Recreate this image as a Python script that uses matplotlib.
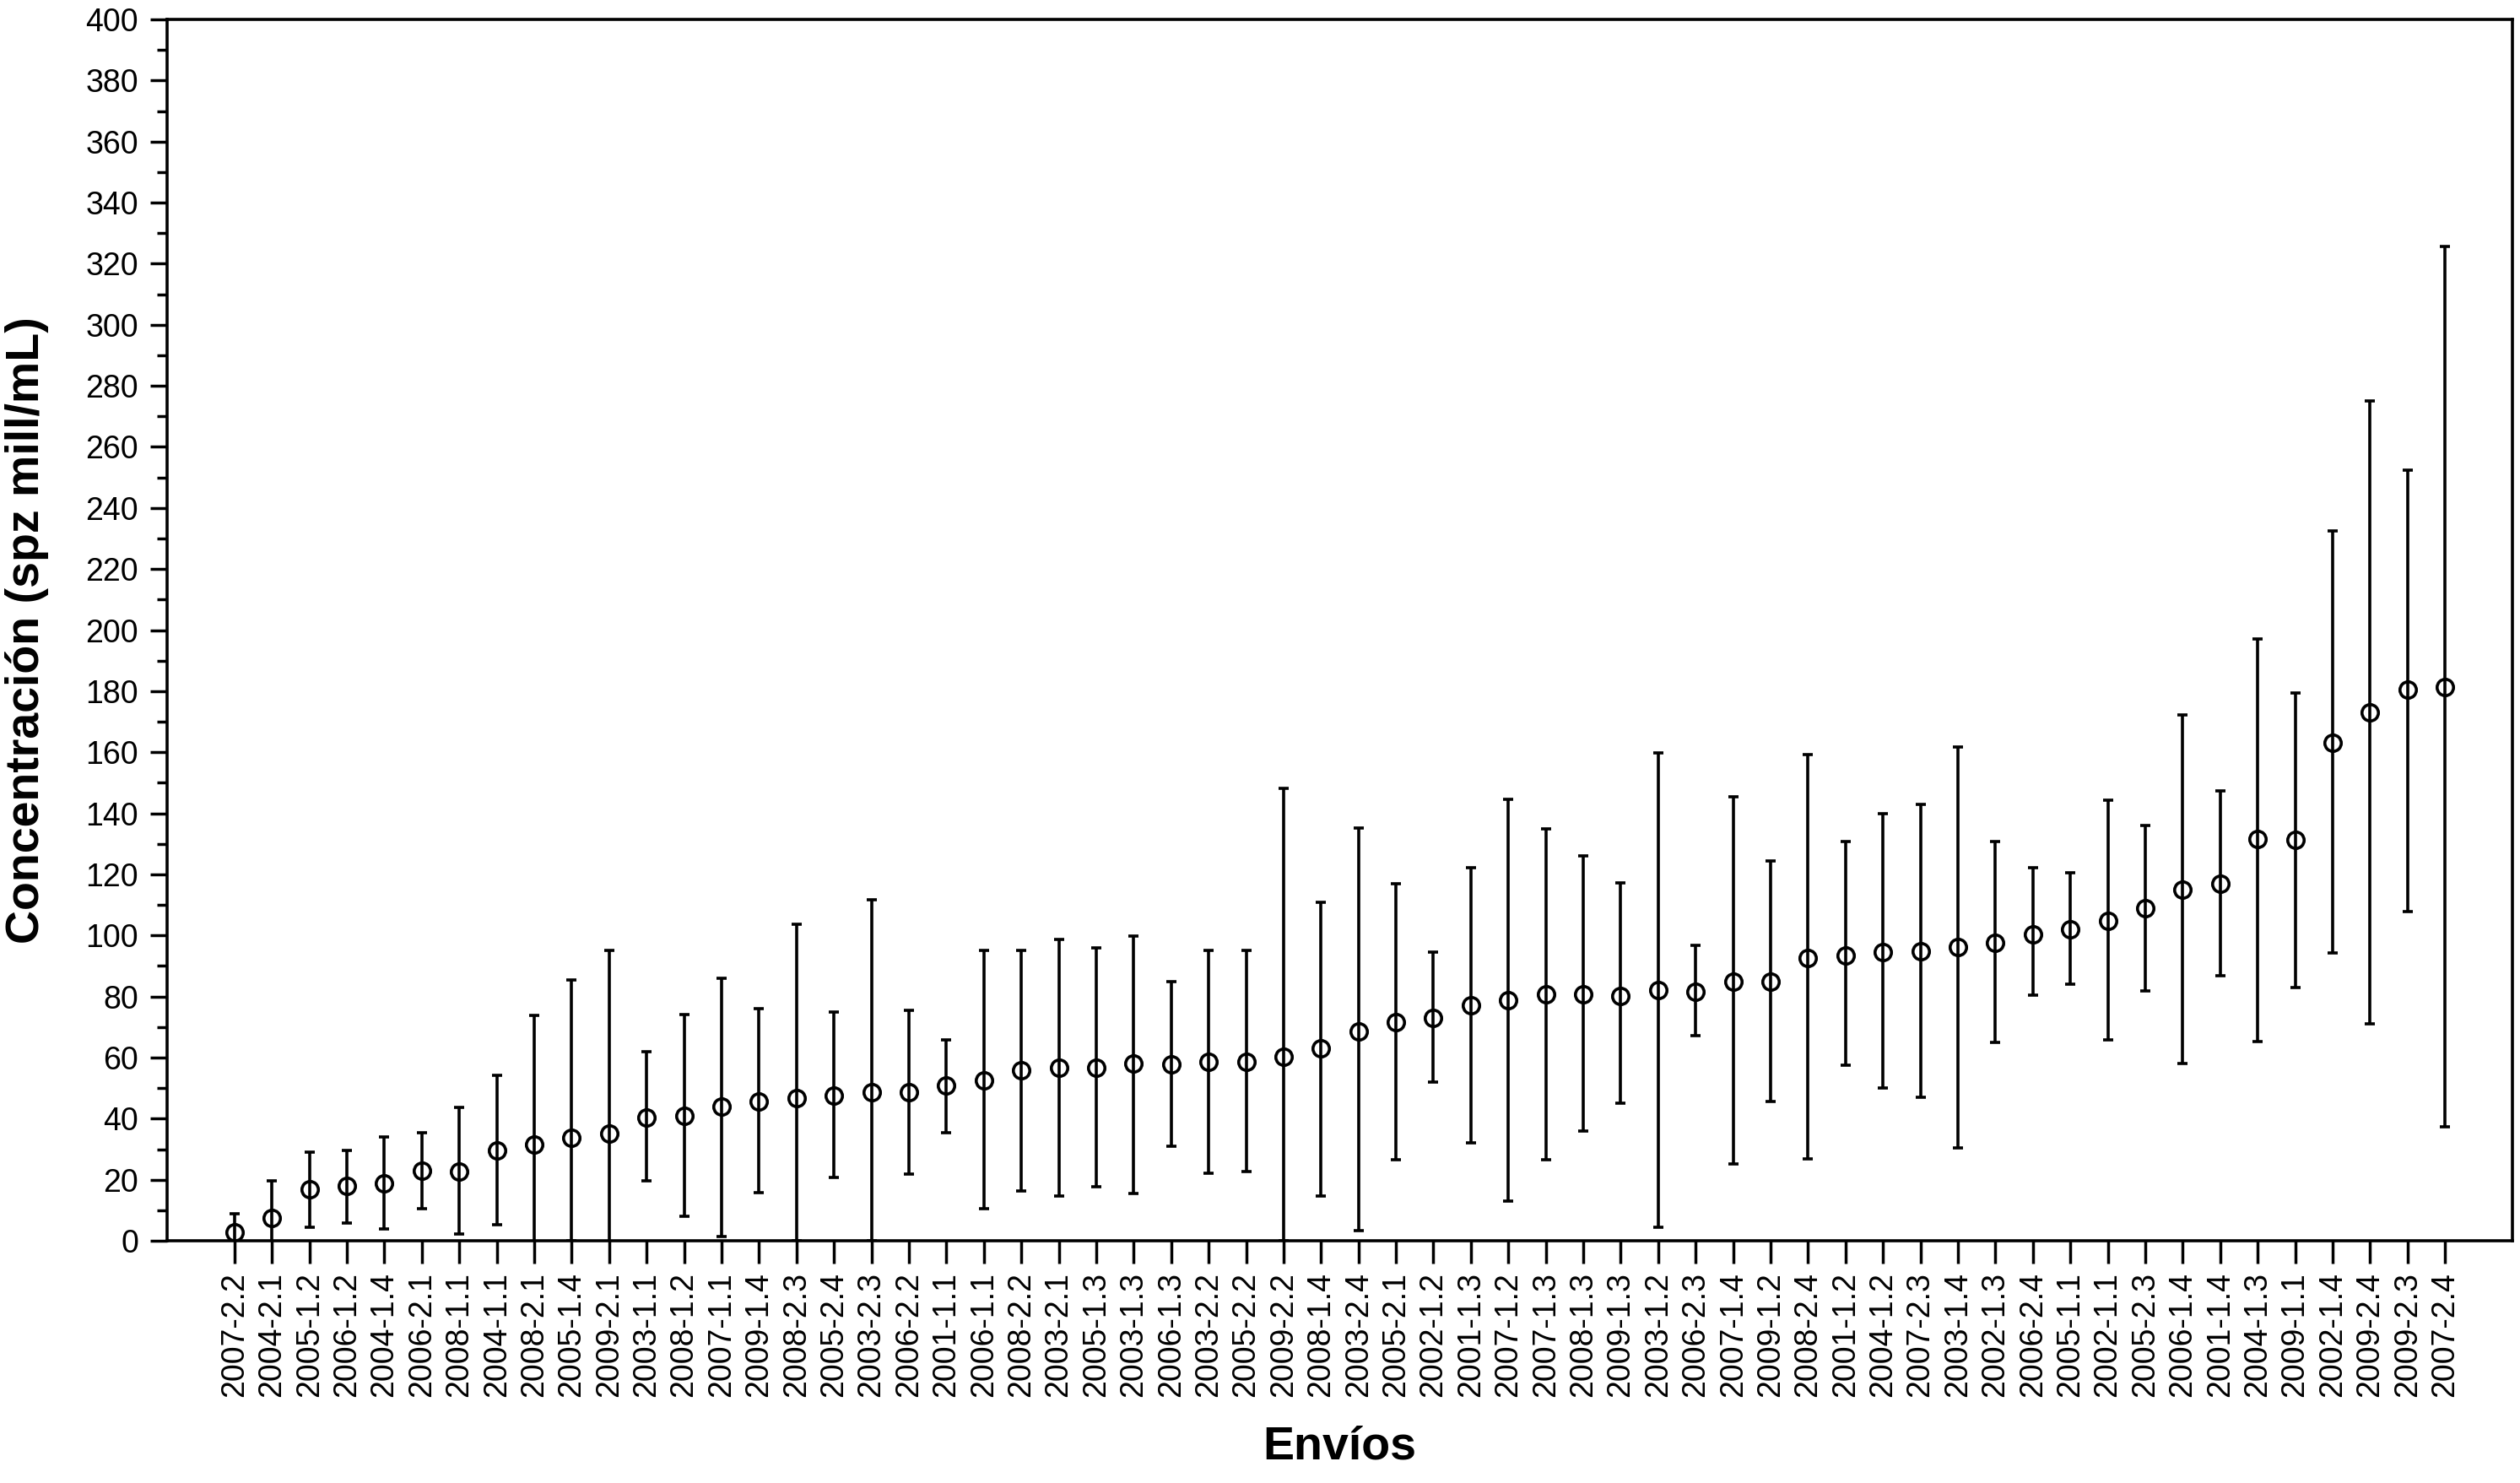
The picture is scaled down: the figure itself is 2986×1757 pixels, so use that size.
import matplotlib
matplotlib.use("Agg")
import matplotlib.pyplot as plt
import numpy as np
from matplotlib.ticker import MultipleLocator

plt.rcParams['font.family'] = ['Liberation Sans', 'DejaVu Sans']

envios = ["2007-2.2", "2004-2.1", "2005-1.2", "2006-1.2", "2004-1.4", "2006-2.1",
          "2008-1.1", "2004-1.1", "2008-2.1", "2005-1.4", "2009-2.1", "2003-1.1",
          "2008-1.2", "2007-1.1", "2009-1.4", "2008-2.3", "2005-2.4", "2003-2.3",
          "2006-2.2", "2001-1.1", "2006-1.1", "2008-2.2", "2003-2.1", "2005-1.3",
          "2003-1.3", "2006-1.3", "2003-2.2", "2005-2.2", "2009-2.2", "2008-1.4",
          "2003-2.4", "2005-2.1", "2002-1.2", "2001-1.3", "2007-1.2", "2007-1.3",
          "2008-1.3", "2009-1.3", "2003-1.2", "2006-2.3", "2007-1.4", "2009-1.2",
          "2008-2.4", "2001-1.2", "2004-1.2", "2007-2.3", "2003-1.4", "2002-1.3",
          "2006-2.4", "2005-1.1", "2002-1.1", "2005-2.3", "2006-1.4", "2001-1.4",
          "2004-1.3", "2009-1.1", "2002-1.4", "2009-2.4", "2009-2.3", "2007-2.4"]

media = [2.9, 7.6, 17.0, 18.1, 18.9, 22.9, 22.6, 29.7, 31.5, 33.7,
         35.1, 40.3, 40.8, 43.9, 45.5, 46.8, 47.6, 48.7, 48.7, 51.0,
         52.6, 55.8, 56.8, 56.6, 58.2, 57.8, 58.5, 58.5, 60.2, 63.0,
         68.6, 71.5, 73.0, 77.1, 78.8, 80.6, 80.8, 80.3, 82.1, 81.7,
         85.0, 85.0, 92.5, 93.4, 94.6, 94.8, 96.2, 97.6, 100.5, 102.1,
         104.9, 109.0, 115.0, 117.0, 131.7, 131.4, 163.2, 173.2, 180.5, 181.4]

inferior = [-3.1, -4.4, 4.4, 5.7, 3.9, 10.5, 2.1, 5.4, -10.7, 0.0,
            -25.0, 19.7, 8.1, 1.5, 15.9, 0.0, 20.7, 0.0, 21.8, 35.5,
            10.4, 16.4, 14.8, 17.6, 15.4, 30.9, 22.2, 22.6, 0.0, 14.6,
            3.3, 26.5, 52.1, 32.1, 13.0, 26.5, 35.9, 45.0, 4.4, 67.1,
            25.1, 45.5, 26.8, 57.6, 50.0, 47.0, 30.4, 64.9, 80.5, 84.0,
            65.8, 81.9, 58.1, 86.8, 65.3, 82.9, 94.3, 71.0, 107.7, 37.4]

superior = [8.9, 19.6, 29.1, 29.7, 34.0, 35.3, 43.8, 54.1, 73.7, 85.4,
            95.2, 62.0, 74.0, 85.9, 76.1, 103.7, 74.9, 111.7, 75.4, 65.8,
            95.0, 95.0, 98.7, 96.0, 99.8, 84.8, 95.0, 95.0, 148.2, 110.9,
            135.1, 116.9, 94.5, 122.2, 144.5, 134.9, 126.1, 117.1, 159.8, 96.8,
            145.4, 124.4, 159.2, 130.8, 139.9, 142.9, 161.8, 130.8, 122.3, 120.6,
            144.4, 136.0, 172.3, 147.4, 197.2, 179.4, 232.6, 275.0, 252.4, 325.7]

x = np.arange(len(envios))
m = np.array(media)
lo = np.array(inferior)
up = np.array(superior)

fig = plt.figure(figsize=(29.86, 17.57), dpi=100)
ax = fig.add_axes([0.0663, 0.1633, 0.9307, 0.8236])

ax.errorbar(x, m, yerr=[m - lo, up - m], fmt='o', color='black',
            markerfacecolor='none', markeredgecolor='black',
            markersize=14, markeredgewidth=2.6,
            elinewidth=2.6, capsize=4.3, capthick=2.6, ecolor='black')

ax.set_xlim(-1.8, 60.8)
ax.set_ylim(0, 400)
ax.yaxis.set_major_locator(MultipleLocator(20))
ax.yaxis.set_minor_locator(MultipleLocator(10))
ax.set_xticks(x)
ax.set_xticklabels(envios, rotation=90, fontsize=27)

for s in ax.spines.values():
    s.set_linewidth(2.6)

ax.tick_params(axis='y', which='major', direction='out', length=14.5, width=2.5,
               labelsize=27, pad=10)
ax.tick_params(axis='y', which='minor', direction='out', length=8.8, width=2.5)
ax.tick_params(axis='x', which='major', direction='out', length=19.5, width=2.5,
               pad=7)

ax.set_ylabel('Concentración (spz mill/mL)', fontsize=40, fontweight='bold')
ax.set_xlabel('Envíos', fontsize=40, fontweight='bold')
ax.yaxis.set_label_coords(-0.0504, 0.5)
ax.xaxis.set_label_coords(0.5, -0.151)

fig.savefig('out.png', dpi=100)
